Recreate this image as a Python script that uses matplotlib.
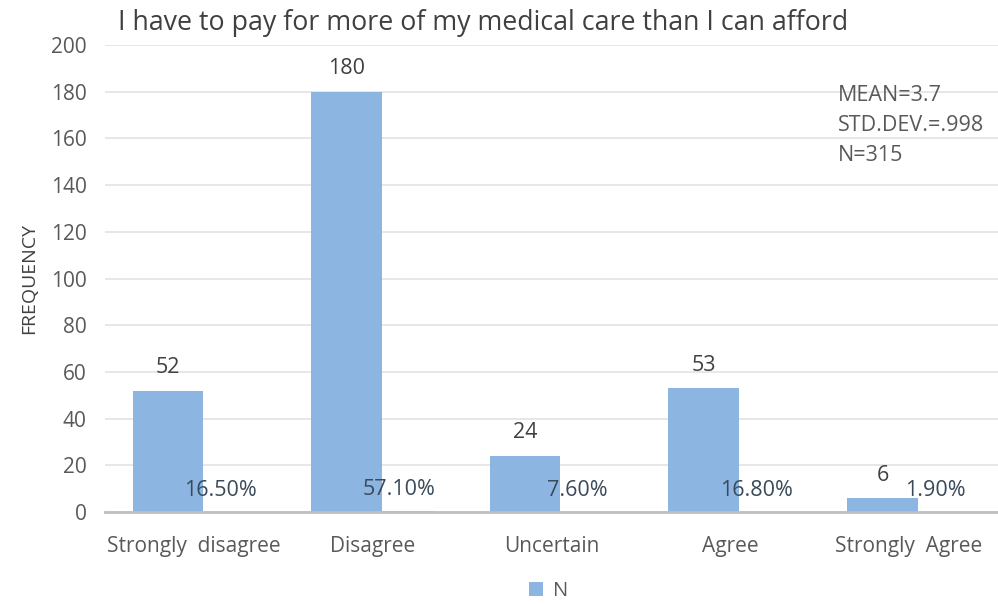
import matplotlib.pyplot as plt

categories = ["Strongly  disagree", "Disagree", "Uncertain", "Agree", "Strongly  Agree"]
counts = [52, 180, 24, 53, 6]
percents = [16.5, 57.1, 7.6, 16.8, 1.9]
stats_lines = ["MEAN=3.7", "STD.DEV.=.998", "N=315"]
title = "I have to pay for more of my medical care than I can afford"

plt.rcParams['font.family'] = ['Open Sans', 'DejaVu Sans']
text_color = '#404040'
bar_color = '#8DB5E2'

fig = plt.figure(figsize=(9.98, 6.04), dpi=100)
ax = fig.add_axes([0.105, 0.1523, 0.895, 0.7732])

x = list(range(len(categories)))
w = 0.395
bars = ax.bar([i - 0.147 for i in x], counts, width=w, color=bar_color, label='N', zorder=3)
# percent series sits on the same axis, so its bars are barely visible
pct_bars = ax.bar([i + 0.147 for i in x], [p / 100 for p in percents], width=w,
                  color=bar_color, zorder=3)

ax.bar_label(bars, labels=[str(c) for c in counts], padding=9, fontsize=15.5, color=text_color)
ax.bar_label(pct_bars, labels=[f"{p:.2f}%" for p in percents], padding=8,
             fontsize=15.5, color='#3a4a5a')

ax.set_xlim(-0.5, 4.5)
ax.set_ylim(0, 200)
ax.set_yticks(range(0, 201, 20))
ax.set_xticks(x)
ax.set_xticklabels(categories)
ax.tick_params(axis='both', length=0, labelsize=15, colors='#595959')
ax.tick_params(axis='x', pad=17)
ax.tick_params(axis='y', pad=13)
ax.grid(axis='y', color='#e3e3e3', lw=1.2, zorder=0)
for s in ['top', 'right', 'left']:
    ax.spines[s].set_visible(False)
ax.spines['bottom'].set_color('#bfbfbf')
ax.spines['bottom'].set_linewidth(2)
ax.spines['bottom'].set_zorder(4)

ax.set_ylabel("FREQUENCY", fontsize=14, color=text_color, labelpad=9)
fig.text(0.118, 0.962, title, fontsize=19.3, color=text_color, va='center', ha='left')

for k, line in enumerate(stats_lines):
    fig.text(0.84, 0.842 - k * 0.0497, line, fontsize=15.5, color='#595959', va='center')

fig.legend(handles=[bars], labels=['N'], loc='center', bbox_to_anchor=(0.55, 0.022),
           frameon=False, fontsize=14.5, handlelength=0.7, handleheight=0.7,
           handletextpad=0.5, labelcolor='#595959', borderpad=0.1)

fig.savefig('out.png', dpi=100)
